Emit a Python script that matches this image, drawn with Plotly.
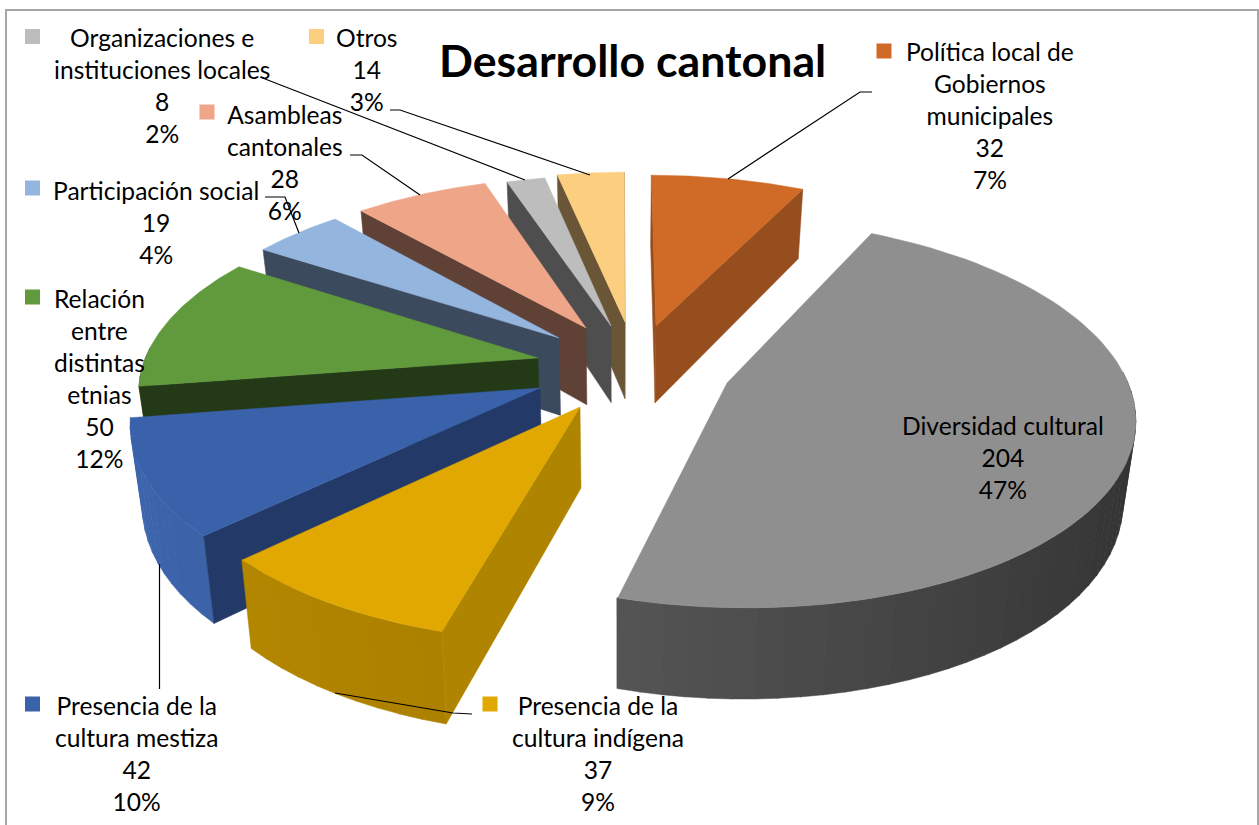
import math
import plotly.graph_objects as go

categories = ["Política local de Gobiernos municipales", "Diversidad cultural", "Presencia de la cultura indígena",
              "Presencia de la cultura mestiza", "Relación entre distintas etnias", "Participación social",
              "Asambleas cantonales", "Organizaciones e instituciones locales", "Otros"]
values = [32, 204, 37, 42, 50, 19, 28, 8, 14]
percents = ["7%", "47%", "9%", "10%", "12%", "4%", "6%", "2%", "3%"]

top_colors = ["#CF6A27", "#8F8F8F", "#E0A800", "#3A62AB", "#609A3C", "#94B5DE", "#EFA588", "#BDBDBD", "#FBCE80"]
wall_dark = ["#8A4A1C", "#333333", "#967000", "#2B4A82", "#24391A", "#64799A", "#A06F5B", "#7E7E7E", "#A88A55"]
wall_light = ["#A5561F", "#686868", "#B88A00", "#3E66AE", "#24391A", "#7A94B6", "#C08A72", "#9A9A9A", "#C8A466"]
side_colors = ["#964E1E", "#3C3C3C", "#AF8400", "#233A68", "#243A17", "#3C4A5E", "#5F4136", "#4E4E4E", "#6A5636"]
# exploded apex of each wedge and painter's order (style only)
pull_x = [656, 727, 580, 540, 538, 559, 586, 611, 625]
pull_y = [326, 383, 407, 388, 358, 338, 328, 326, 322]
paint_order = [0, 8, 7, 6, 5, 4, 3, 2, 1]
RX, RY, PERSP, DEPTH = 390, 180, 0.15, 78
CX, CY = 620, 350


def project(ax, ay, ang, r=1.0, drop=0.0):
    u, v = math.sin(ang) * r, -math.cos(ang) * r
    v0 = (ay - CY) / RY
    s0 = 1 / (1 - PERSP * v0)
    s = 1 / (1 - PERSP * (v0 + v))
    x = CX + ((ax - CX) / s0 + RX * u) * s
    y = CY + ((ay - CY) / s0 + RY * v) * s
    x -= (x - CX) * 0.025 * drop
    return x, y + drop * DEPTH * s ** 0.8


def mix(c1, c2, t):
    a = [int(c1[i:i + 2], 16) for i in (1, 3, 5)]
    b = [int(c2[i:i + 2], 16) for i in (1, 3, 5)]
    return "#%02x%02x%02x" % tuple(round(p + (q - p) * t) for p, q in zip(a, b))


def poly(points, color):
    xs = [p[0] for p in points] + [points[0][0]]
    ys = [p[1] for p in points] + [points[0][1]]
    return go.Scatter(x=xs, y=ys, mode="lines", fill="toself", fillcolor=color,
                      line=dict(color=color, width=0.5), hoverinfo="skip", showlegend=False)


total = sum(values)
starts = []
acc = 0
for val in values:
    starts.append(acc / total * 2 * math.pi)
    acc += val

fig = go.Figure()
for i in paint_order:
    th0 = starts[i]
    th1 = th0 + values[i] / total * 2 * math.pi
    ax, ay = pull_x[i], pull_y[i]
    # outer wall strips
    n = max(6, int((th1 - th0) / 0.05))
    for k in range(n):
        a0 = th0 + (th1 - th0) * k / n
        a1 = th0 + (th1 - th0) * (k + 1) / n + 0.002
        if -math.cos((a0 + a1) / 2) < -0.05:
            continue
        t = (1 - math.sin((a0 + a1) / 2)) / 2
        fig.add_trace(poly([project(ax, ay, a0), project(ax, ay, a1), project(ax, ay, a1, 1, 1), project(ax, ay, a0, 1, 1)],
                           mix(wall_dark[i], wall_light[i], t)))
    # radial faces
    for th, sign in ((th0, -1), (th1, 1)):
        nv = -math.cos(th + sign * math.pi / 2)
        if nv > -0.05:
            fig.add_trace(poly([(ax, ay), project(ax, ay, th), project(ax, ay, th, 1, 1), project(ax, ay, th, 0, 1)],
                               side_colors[i]))
    # top face
    arc = [project(ax, ay, th0 + (th1 - th0) * k / 80) for k in range(81)]
    fig.add_trace(poly([(ax, ay)] + arc, top_colors[i]))

leaders = [
    [(728, 179), (860, 92), (872, 92)],
    [(335, 693), (453, 713), (472, 714)],
    [(159.5, 564), (159.5, 689)],
    [(299, 233), (285, 197), (265, 197)],
    [(420, 195), (362, 155), (350, 155)],
    [(525, 180), (260, 77)],
    [(590, 175), (400, 110), (390, 110)],
]
for line in leaders:
    fig.add_trace(go.Scatter(x=[p[0] for p in line], y=[p[1] for p in line], mode="lines",
                             line=dict(color="#000000", width=1.2), hoverinfo="skip", showlegend=False))

labels = [
    ("Política local de<br>Gobiernos<br>municipales<br>32<br>7%", 990, 115, 0),
    ("Diversidad cultural<br>204<br>47%", 1003, 457, 1),
    ("Presencia de la<br>cultura indígena<br>37<br>9%", 598, 753, 2),
    ("Presencia de la<br>cultura mestiza<br>42<br>10%", 136, 753, 3),
    ("Relación<br>entre<br>distintas<br>etnias<br>50<br>12%", 99, 378, 4),
    ("Participación social<br>19<br>4%", 156, 222, 5),
    ("Asambleas<br>cantonales<br>28<br>6%", 285, 162, 6),
    ("Organizaciones e<br>instituciones locales<br>8<br>2%", 162, 85, 7),
    ("Otros<br>14<br>3%", 367, 69, 8),
]
for text, x, y, i in labels:
    fig.add_annotation(x=x, y=y, text=text, showarrow=False, xref="x", yref="y",
                       font=dict(family="Lato", size=24.6, color="#000000"), align="center")

keys = [(884, 51), (881, 425), (490, 704), (32.5, 704), (32.5, 297), (32.5, 188), (207, 112), (32.5, 36.5), (316.5, 36.5)]
fig.add_trace(go.Scatter(x=[k[0] for k in keys], y=[k[1] for k in keys], mode="markers",
                         marker=dict(symbol="square", size=15, color=top_colors, line=dict(width=0)),
                         hoverinfo="skip", showlegend=False))

fig.add_annotation(x=632, y=60, text="<b>Desarrollo cantonal</b>", showarrow=False, xref="x", yref="y",
                   font=dict(family="Lato", size=44.7, color="#000000"))

fig.update_layout(width=1259, height=825, margin=dict(l=0, r=0, t=0, b=0), autosize=False,
                  paper_bgcolor="#FFFFFF", plot_bgcolor="#FFFFFF", showlegend=False,
                  xaxis=dict(range=[0, 1259], visible=False, fixedrange=True),
                  yaxis=dict(range=[825, 0], visible=False, fixedrange=True),
                  shapes=[dict(type="rect", xref="x", yref="y", x0=6, y0=10, x1=1258, y1=840,
                               line=dict(color="#A6A6A6", width=2), fillcolor="rgba(0,0,0,0)")])
fig.write_html("out.html", config={"displayModeBar": False},
               post_script="document.body.style.margin='0';document.body.style.overflow='hidden';")
